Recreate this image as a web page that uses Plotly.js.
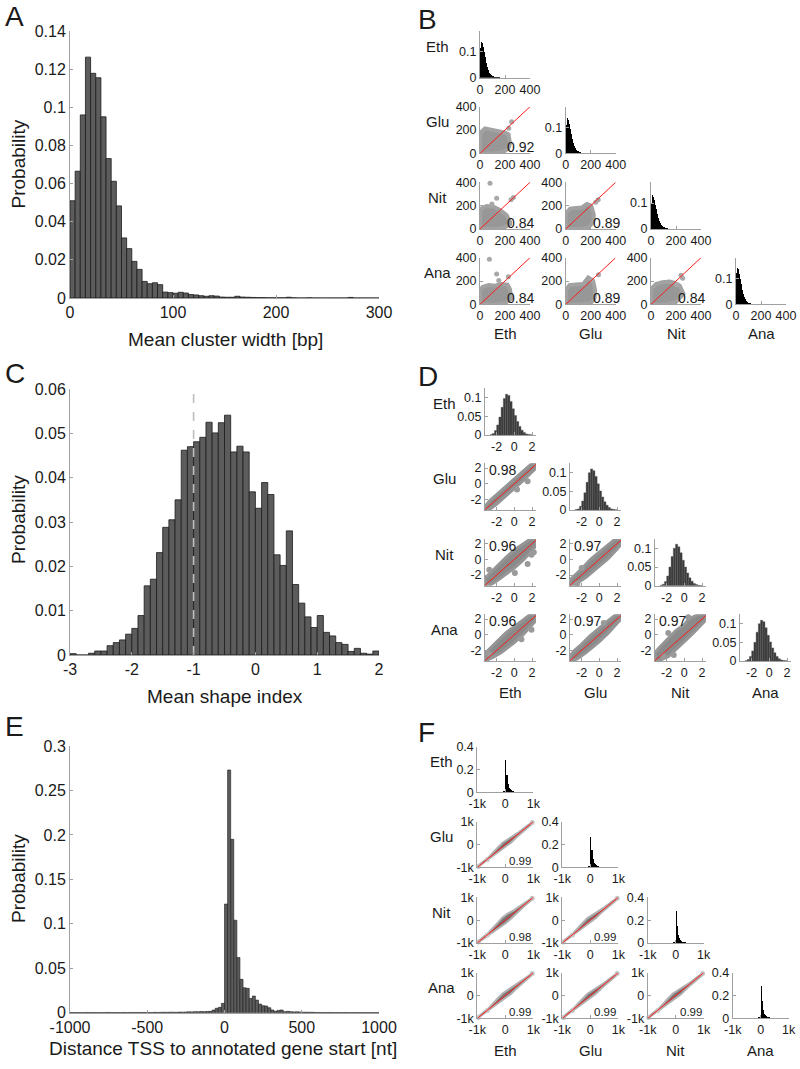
<!DOCTYPE html>
<html><head><meta charset="utf-8">
<script src="https://cdn.plot.ly/plotly-3.0.1.min.js"></script>
<style>html,body{margin:0;padding:0;background:#fff}</style>
</head><body><div id="chart" style="width:800px;height:1069px"></div>
<script>
// ---------------- DATA ----------------
// Panel A: mean cluster width histogram (bins of 5 bp from 0)
const aBinStart = 0, aBinWidth = 5;
const aProb = [0.051,0.0665,0.096,0.1263,0.1178,0.1155,0.095,0.0731,0.0612,0.0483,
0.0315,0.0259,0.0192,0.015,0.0087,0.0075,0.008,0.007,0.0031,0.0028,
0.0025,0.003,0.0026,0.0018,0.0016,0.0012,0.0009,0.0012,0.001,0.0005,
0.0004,0.0004,0.0009,0.0005,0.0004,0.0003,0.0002,0.0002,0.0001,0.0001,
0.0001,0.0001,0.0004,0.0001,0,0,0.0001,0,0,0,
0,0,0,0,0.0003,0,0,0,0,0];
const aXTicks = [0,100,200,300], aXText = ['0','100','200','300'];
const aYTicks = [0,0.02,0.04,0.06,0.08,0.1,0.12,0.14];
const aYText = ['0','0.02','0.04','0.06','0.08','0.1','0.12','0.14'];

// Panel C: mean shape index histogram (bins of 0.1 from -3)
const cBinStart = -3, cBinWidth = 0.1;
const cProb = [0.0003,0,0,0.0004,0.0009,0.0009,0.0021,0.0028,0.0034,0.0047,
0.006,0.0089,0.0156,0.0171,0.0231,0.0288,0.0305,0.035,0.0462,0.047,
0.0481,0.0491,0.0525,0.0501,0.0524,0.0541,0.0458,0.0471,0.0458,0.0368,
0.0331,0.0389,0.0362,0.0226,0.0202,0.028,0.0159,0.0117,0.0086,0.0062,
0.0089,0.0051,0.0043,0.0028,0.0024,0.0008,0.0015,0.0004,0.0002,0.0009];
const cDashX = [-1,-1], cDashY = [0,0.06];
const cXTicks = [-3,-2,-1,0,1,2], cXText = ['-3','-2','-1','0','1','2'];
const cYTicks = [0,0.01,0.02,0.03,0.04,0.05,0.06];
const cYText = ['0','0.01','0.02','0.03','0.04','0.05','0.06'];

// Panel E: distance TSS to annotated gene start (bins of 20 nt from -1000)
const eBinStart = -1000, eBinWidth = 20;
const eProb = [0.0002,0.0001,0.0002,0.0002,0.0001,0.0003,0.0001,0.0002,0.0002,0.0001,
0.0001,0.0002,0.0003,0.0002,0.0001,0.0002,0.0002,0.0003,0.0002,0.0003,
0.0002,0.0003,0.0002,0.0003,0.0002,0.0003,0.0002,0.0004,0.0003,0.0004,
0.0005,0.0004,0.0006,0.0005,0.0004,0.0007,0.0006,0.0008,0.001,0.0009,
0.0012,0.001,0.0013,0.0011,0.0014,0.0015,0.003,0.005,0.006,0.0105,
0.1222,0.273,0.195,0.104,0.062,0.0375,0.028,0.0274,0.016,0.0187,
0.0142,0.0097,0.0079,0.0075,0.0056,0.003,0.0015,0.0026,0.003,0.0011,
0.0015,0.0012,0.0009,0.001,0.0008,0.0006,0.0005,0.0005,0.0004,0.0003,
0.0003,0.0002,0.0002,0.0003,0.0002,0.0001,0.0002,0.0001,0.0001,0.0002,
0.0001,0.0001,0.0002,0.0001,0.0001,0.0001,0.0001,0.0001,0.0001,0.0001];
const eXTicks = [-1000,-500,0,500,1000], eXText = ['-1000','-500','0','500','1000'];
const eYTicks = [0,0.05,0.1,0.15,0.2,0.25,0.3];
const eYText = ['0','0.05','0.1','0.15','0.2','0.25','0.3'];

const conditions = ['Eth','Glu','Nit','Ana'];

// Panel B: per-condition cluster width histograms (bins of 8 from 0)
const bBinStart = 0, bBinWidth = 8;
const bHistEth = [0.115,0.137,0.133,0.12,0.1,0.08,0.058,0.042,0.03,0.02,0.014,0.01,0.007,0.005,0.004,0.003,0.002,0.0015,0.001,0.001];
const bHistGlu = [0.11,0.135,0.13,0.115,0.095,0.075,0.056,0.041,0.03,0.021,0.015,0.011,0.008,0.006,0.004,0.003,0.002,0.0015,0.001,0.001];
const bHistNit = [0.1,0.13,0.125,0.112,0.094,0.076,0.058,0.043,0.032,0.023,0.016,0.012,0.009,0.006,0.004,0.003,0.002,0.0015,0.001,0.001];
const bHistAna = [0.12,0.141,0.135,0.118,0.097,0.077,0.057,0.041,0.029,0.02,0.014,0.01,0.007,0.005,0.004,0.003,0.002,0.0015,0.001,0.001];
// Panel B: scatter cloud outlines and outlying points (x = column, y = row condition)
const bGluEthX = [0,100,180,225,240,228,200,160,120,80,40,13,0];
const bGluEthY = [0,0,10,40,86,163,177,186,191,206,214,186,140];
const bGluEthOX = [253,230], bGluEthOY = [271,215];
const bNitEthX = [0,120,190,240,240,213,160,107,53,13,0];
const bNitEthY = [0,0,10,40,63,120,163,191,197,177,130];
const bNitEthOX = [80,133,248,267,95], bNitEthOY = [391,263,250,269,215];
const bNitGluX = [0,110,180,220,225,205,170,130,80,35,0];
const bNitGluY = [0,0,10,60,120,200,215,185,180,175,130];
const bNitGluOX = [260,240], bNitGluOY = [250,230];
const bAnaEthX = [0,130,200,250,240,220,170,120,70,20,0];
const bAnaEthY = [0,0,10,50,130,170,175,160,165,150,120];
const bAnaEthOX = [75,133,227,150], bAnaEthOY = [386,260,237,205];
const bAnaGluX = [0,110,200,230,235,220,180,140,80,30,0];
const bAnaGluY = [0,0,10,50,120,200,230,175,170,165,120];
const bAnaGluOX = [262,210], bAnaGluOY = [255,210];
const bAnaNitX = [0,120,200,260,230,190,150,90,40,0];
const bAnaNitY = [0,0,20,90,160,185,195,190,175,130];
const bAnaNitOX = [253,205,240], bAnaNitOY = [223,166,250];
const bCorr = {GluEth:'0.92', NitEth:'0.84', NitGlu:'0.89', AnaEth:'0.84', AnaGlu:'0.89', AnaNit:'0.84'};
const bTicks = [0,200,400], bTickText = ['0','200','400'];
const bHistYTicks = [0,0.1], bHistYText = ['0','0.1'];

// Panel D: per-condition shape index histograms (bins of 0.25 from -2.75)
const dBinStart = -2.75, dBinWidth = 0.25;
const dHistEth = [0.001,0.004,0.012,0.027,0.048,0.074,0.098,0.109,0.106,0.09,0.07,0.052,0.036,0.023,0.013,0.007,0.003,0.0015,0.0005];
const dHistGlu = [0.001,0.003,0.01,0.024,0.046,0.074,0.1,0.11,0.105,0.09,0.07,0.051,0.035,0.022,0.013,0.007,0.003,0.0015,0.0005];
const dHistNit = [0.001,0.004,0.011,0.026,0.05,0.078,0.1,0.111,0.104,0.088,0.068,0.05,0.034,0.021,0.012,0.006,0.003,0.001,0.0005];
const dHistAna = [0.001,0.004,0.012,0.027,0.05,0.077,0.1,0.109,0.105,0.089,0.069,0.051,0.035,0.022,0.012,0.006,0.003,0.0015,0.0005];
const dGluEthX = [-3.32,-2.8,-2,-1,0,1,2,2.45,2.45,2,1,0,-1,-2,-2.8,-3.32];
const dGluEthY = [-3.37,-3.3,-2.6,-1.6,-0.65,0.4,1.5,2.0,2.6,2.6,1.6,0.6,-0.4,-1.4,-2.2,-2.9];
const dGluEthOX = [0.3,1.5], dGluEthOY = [-0.75,0.3];
const dNitEthX = [-3.32,-2.6,-1.8,-1,0,1,2,2.45,2.45,1.8,1,0,-1,-2,-2.8,-3.32];
const dNitEthY = [-3.37,-3.2,-2.6,-1.9,-1.1,-0.1,1.1,1.8,2.6,2.6,2.0,1.2,0.2,-0.9,-1.7,-2.4];
const dNitEthOX = [-2.83,1.94,0.06,2.2,1.5], dNitEthOY = [-1.33,0.58,-1.75,0.9,-0.6];
const dNitGluX = [-3.32,-2.6,-1.5,0,1,2,2.45,2.45,1.8,0.5,-1,-2,-2.8,-3.32];
const dNitGluY = [-3.37,-3.1,-2.3,-0.9,0.1,1.3,1.9,2.6,2.6,1.4,0.0,-1.2,-2.0,-2.6];
const dNitGluOX = [-2.5,-2.0], dNitGluOY = [-3.1,-1.1];
const dAnaEthX = [-3.32,-2.6,-1.5,0,1,2,2.45,2.45,1.8,1,0,-1,-2,-2.8,-3.32];
const dAnaEthY = [-3.37,-3.0,-2.3,-1.0,0.0,1.2,1.8,2.6,2.6,1.9,1.1,0.2,-0.9,-1.8,-2.4];
const dAnaEthOX = [1.94,-2.83,0.8], dAnaEthOY = [0.62,-2.5,-0.6];
const dAnaGluX = [-3.32,-2.5,-1.5,0,1,2,2.45,2.45,1.9,1,0,-1,-2,-2.8,-3.32];
const dAnaGluY = [-3.37,-3.1,-2.3,-0.9,0.2,1.4,2.0,2.6,2.6,1.8,0.9,-0.1,-1.2,-2.0,-2.7];
const dAnaGluOX = [0.5], dAnaGluOY = [1.5];
const dAnaNitX = [-3.32,-2.6,-1.8,-1,0,1,2,2.45,2.45,1.6,0.5,0,-1,-2,-2.8,-3.32];
const dAnaNitY = [-3.37,-3.2,-2.8,-1.9,-0.9,0.2,1.3,1.9,2.6,2.6,2.0,1.3,0.5,-0.6,-1.6,-2.3];
const dAnaNitOX = [0.44,-1.82,-2.38,-1.2], dAnaNitOY = [2.23,0.2,-2.77,-2.6];
const dCorr = {GluEth:'0.98', NitEth:'0.96', NitGlu:'0.97', AnaEth:'0.96', AnaGlu:'0.97', AnaNit:'0.97'};
const dTicks = [-2,0,2], dTickText = ['-2','0','2'];
const dHistYTicks = [0,0.05,0.1], dHistYText = ['0','0.05','0.1'];

// Panel F: per-condition TSS distance histograms (bins of 40 nt from -200)
const fBinStart = -200, fBinWidth = 40;
const fHistEth = [0.002,0.003,0.004,0.008,0.014,0.28,0.15,0.07,0.04,0.028,0.02,0.013,0.009,0.006,0.004,0.003,0.002,0.0015,0.001,0.001];
const fHistGlu = [0.002,0.003,0.004,0.008,0.014,0.27,0.15,0.072,0.041,0.028,0.02,0.013,0.009,0.006,0.004,0.003,0.002,0.0015,0.001,0.001];
const fHistNit = [0.002,0.003,0.004,0.008,0.015,0.28,0.145,0.07,0.04,0.027,0.019,0.013,0.009,0.006,0.004,0.003,0.002,0.0015,0.001,0.001];
const fHistAna = [0.002,0.003,0.004,0.008,0.014,0.285,0.148,0.07,0.04,0.027,0.02,0.013,0.009,0.006,0.004,0.003,0.002,0.0015,0.001,0.001];
const fGluEthX = [-1000,-700,-400,-200,0,200,400,700,1000,1000,800,500,300,100,-100,-300,-600,-1000];
const fGluEthY = [-1000,-730,-460,-300,-120,80,320,650,950,1000,840,560,400,260,80,-170,-560,-950];
const fNitEthX = [-1000,-700,-400,-200,0,200,400,700,1000,1000,800,500,300,100,-100,-300,-600,-1000];
const fNitEthY = [-1000,-740,-480,-330,-150,60,300,640,950,1000,850,580,430,300,120,-150,-550,-950];
const fNitGluX = [-1000,-700,-400,-200,0,200,400,700,1000,1000,800,500,300,100,-100,-300,-600,-1000];
const fNitGluY = [-1000,-730,-460,-300,-120,90,330,660,950,1000,840,560,400,260,90,-160,-560,-950];
const fAnaEthX = [-1000,-700,-400,-200,0,200,400,700,1000,1000,800,500,300,100,-100,-300,-600,-1000];
const fAnaEthY = [-1000,-730,-470,-310,-130,70,310,650,950,1000,840,570,410,270,90,-160,-560,-950];
const fAnaGluX = [-1000,-700,-400,-200,0,200,400,700,1000,1000,800,500,300,100,-100,-300,-600,-1000];
const fAnaGluY = [-1000,-730,-460,-300,-120,80,320,650,950,1000,840,560,400,260,80,-170,-560,-950];
const fAnaNitX = [-1000,-700,-400,-200,0,200,400,700,1000,1000,800,500,300,100,-100,-300,-600,-1000];
const fAnaNitY = [-1000,-730,-460,-300,-130,70,320,650,950,1000,840,560,400,270,90,-160,-560,-950];
const fEndsX = [-960,-640,960], fEndsY = [-960,-650,960];
const fCorr = {GluEth:'0.99', NitEth:'0.98', NitGlu:'0.99', AnaEth:'0.99', AnaGlu:'0.99', AnaNit:'0.99'};
const fTicks = [-1000,0,1000], fTickText = ['-1k','0','1k'];
const fHistYTicks = [0,0.2,0.4], fHistYText = ['0','0.2','0.4'];

// ---------------- BUILD ----------------
const W = 800, H = 1069;
const FONT = 'Liberation Sans, Arial, Helvetica, sans-serif';
const TXT = '#1a1a1a', AXC = '#a0a0a0';
const traces = [];
const layout = {width:W, height:H, margin:{l:0,r:0,t:0,b:0}, showlegend:false,
  paper_bgcolor:'#fff', plot_bgcolor:'#fff', bargap:0, barmode:'overlay',
  annotations:[], font:{family:FONT, color:TXT}};

let nAx = 0;
function makeAxes(box, xo, yo) {
  nAx++;
  const s = nAx === 1 ? '' : String(nAx);
  const base = {showline:true, linecolor:AXC, linewidth:1, ticks:'inside', ticklen:3, tickcolor:AXC,
    tickwidth:1, showgrid:false, zeroline:false, fixedrange:true, tickmode:'array'};
  layout['xaxis'+s] = Object.assign({}, base, {domain:[box[0]/W,(box[0]+box[2])/W], anchor:'y'+s}, xo);
  layout['yaxis'+s] = Object.assign({}, base, {domain:[1-(box[1]+box[3])/H, 1-box[1]/H], anchor:'x'+s}, yo);
  return {xaxis:'x'+s, yaxis:'y'+s};
}
function bars(ax, start, width, vals, fill, lc, lw) {
  traces.push(Object.assign({type:'bar', x: vals.map((_,i)=>start+width*(i+0.5)), y: vals, width: width,
    marker:{color:fill, line:{color:lc, width:lw}}, hoverinfo:'skip'}, ax));
}
function line(ax, xs, ys, color, width, dash) {
  traces.push(Object.assign({type:'scatter', mode:'lines', x:xs, y:ys, line:{color:color, width:width, dash:dash||'solid'}, hoverinfo:'skip'}, ax));
}
function cloud(ax, xs, ys, fillc, lc, lw) {
  traces.push(Object.assign({type:'scatter', mode:'lines', x:xs.concat([xs[0]]), y:ys.concat([ys[0]]), fill:'toself',
    fillcolor:fillc, line:{color:lc, width:lw}, hoverinfo:'skip'}, ax));
}
function pts(ax, xs, ys, color, size) {
  traces.push(Object.assign({type:'scatter', mode:'markers', x:xs, y:ys, marker:{color:color, size:size}, cliponaxis:false, hoverinfo:'skip'}, ax));
}
function ann(text, x, y, size, xa, ya, angle) {
  layout.annotations.push({text:text, x:x/W, y:1-y/H, xref:'paper', yref:'paper', showarrow:false,
    xanchor:xa||'center', yanchor:ya||'middle', textangle:angle||0, font:{family:FONT, size:size, color:TXT}});
}

// Big histograms
const bigTick = {family:FONT, size:16, color:TXT};
function bigHist(box, start, width, vals, xr, yr, xt, xtt, yt, ytt, lw) {
  const ax = makeAxes(box,
    {range:xr, tickvals:xt, ticktext:xtt, tickfont:bigTick},
    {range:yr, tickvals:yt, ticktext:ytt, tickfont:bigTick});
  bars(ax, start, width, vals, '#5c5c5c', '#1c1c1c', lw);
  return ax;
}
bigHist([70,31,309,267], aBinStart, aBinWidth, aProb, [0,300], [0,0.14], aXTicks, aXText, aYTicks, aYText, 0.8);
const axC = bigHist([70,389,309,266], cBinStart, cBinWidth, cProb, [-3,2], [0,0.06], cXTicks, cXText, cYTicks, cYText, 0.8);
line(axC, cDashX, cDashY, '#bdbdbd', 1.6, 'dash');
bigHist([70,746,309,266.7], eBinStart, eBinWidth, eProb, [-1000,1000], [0,0.3], eXTicks, eXText, eYTicks, eYText, 0.6);

ann('Mean cluster width [bp]', 225, 339, 19);
ann('Mean shape index', 225, 696, 19);
ann('Distance TSS to annotated gene start [nt]', 223, 1048, 19);
ann('Probability', 18, 164.5, 19, 'center', 'middle', -90);
ann('Probability', 18, 520, 19, 'center', 'middle', -90);
ann('Probability', 18, 879, 19, 'center', 'middle', -90);
ann('A', 3, 16, 28, 'left'); ann('B', 416, 19, 28, 'left');
ann('C', 3, 373, 28, 'left'); ann('D', 416, 377, 28, 'left');
ann('E', 3, 726, 28, 'left'); ann('F', 416, 732, 28, 'left');

// Matrix panels
function matrix(cfg) {
  const tf = {family:FONT, size:cfg.tickSize, color:TXT};
  for (let r = 0; r < 4; r++) {
    ann(conditions[r], cfg.rowLabelX, cfg.rows[r] + 15, 15);
    for (let c = 0; c <= r; c++) {
      const box = [cfg.cols[c], cfg.rows[r], cfg.w, cfg.h];
      if (r === c) {
        const ax = makeAxes(box,
          {range:cfg.xr, tickvals:cfg.ticks, ticktext:cfg.tickText, tickfont:tf},
          {range:cfg.hyr, tickvals:cfg.hTicks, ticktext:cfg.hTickText, tickfont:tf});
        bars(ax, cfg.hStart, cfg.hWidth, cfg.hists[conditions[r]], cfg.histColor, cfg.histLine, cfg.histLW);
      } else {
        const key = conditions[r] + conditions[c];
        const ax = makeAxes(box,
          {range:cfg.xr, tickvals:cfg.ticks, ticktext:cfg.tickText, tickfont:tf},
          {range:cfg.yr, tickvals:cfg.ticks, ticktext:cfg.tickText, tickfont:tf});
        const cl = cfg.clouds[key];
        cloud(ax, cl[0], cl[1], cfg.cloudFill, cfg.cloudLine, cfg.cloudLW);
        if (cl[2]) pts(ax, cl[2], cl[3], cfg.ptColor, cfg.ptSize);
        line(ax, cfg.diag, cfg.diag, '#ff1a1a', 1);
        const corr = cfg.corr[key];
        if (cfg.corrPos === 'br') ann(corr, box[0]+box[2]+cfg.corrDx, box[1]+box[3]-6, cfg.corrSize, 'right');
        else ann(corr, box[0]+2, box[1]+7, cfg.corrSize, 'left');
      }
    }
    ann(conditions[r], cfg.cols[r] + cfg.w/2, cfg.colLabelY, 15);
  }
}

matrix({cols:[480,565.7,651,736], rows:[31,106.7,182.3,257.7], w:50, h:46.7,
  xr:[0,400], yr:[0,400], hyr:[0,0.18], ticks:bTicks, tickText:bTickText,
  hTicks:bHistYTicks, hTickText:bHistYText, tickSize:12.5,
  hStart:bBinStart, hWidth:bBinWidth, hists:{Eth:bHistEth, Glu:bHistGlu, Nit:bHistNit, Ana:bHistAna},
  histColor:'#000', histLine:'#000', histLW:0,
  clouds:{GluEth:[bGluEthX,bGluEthY,bGluEthOX,bGluEthOY], NitEth:[bNitEthX,bNitEthY,bNitEthOX,bNitEthOY],
    NitGlu:[bNitGluX,bNitGluY,bNitGluOX,bNitGluOY], AnaEth:[bAnaEthX,bAnaEthY,bAnaEthOX,bAnaEthOY],
    AnaGlu:[bAnaGluX,bAnaGluY,bAnaGluOX,bAnaGluOY], AnaNit:[bAnaNitX,bAnaNitY,bAnaNitOX,bAnaNitOY]},
  cloudFill:'#979797', cloudLine:'#a2a2a2', cloudLW:4, ptColor:'#a8a8a8', ptSize:5,
  diag:[0,400], corr:bCorr, corrPos:'br', corrDx:6, corrSize:14,
  rowLabelX:437, colLabelY:334});

matrix({cols:[485,570,655,740], rows:[388.3,463.3,539,614.3], w:51, h:46.7,
  xr:[-3.32,2.45], yr:[-3.37,2.61], hyr:[0,0.125], ticks:dTicks, tickText:dTickText,
  hTicks:dHistYTicks, hTickText:dHistYText, tickSize:12.5,
  hStart:dBinStart, hWidth:dBinWidth, hists:{Eth:dHistEth, Glu:dHistGlu, Nit:dHistNit, Ana:dHistAna},
  histColor:'#3a3a3a', histLine:'#555', histLW:0.4,
  clouds:{GluEth:[dGluEthX,dGluEthY,dGluEthOX,dGluEthOY], NitEth:[dNitEthX,dNitEthY,dNitEthOX,dNitEthOY],
    NitGlu:[dNitGluX,dNitGluY,dNitGluOX,dNitGluOY], AnaEth:[dAnaEthX,dAnaEthY,dAnaEthOX,dAnaEthOY],
    AnaGlu:[dAnaGluX,dAnaGluY,dAnaGluOX,dAnaGluOY], AnaNit:[dAnaNitX,dAnaNitY,dAnaNitOX,dAnaNitOY]},
  cloudFill:'#8a8a8a', cloudLine:'#959595', cloudLW:3, ptColor:'#9a9a9a', ptSize:6,
  diag:[-3.4,2.7], corr:dCorr, corrPos:'tl', corrSize:14,
  rowLabelX:444, colLabelY:692});

matrix({cols:[477.3,562.3,647.7,732.7], rows:[746.7,821.7,897.3,972.7], w:56, h:45.7,
  xr:[-1000,1000], yr:[-1000,1000], hyr:[0,0.4], ticks:fTicks, tickText:fTickText,
  hTicks:fHistYTicks, hTickText:fHistYText, tickSize:12.5,
  hStart:fBinStart, hWidth:fBinWidth, hists:{Eth:fHistEth, Glu:fHistGlu, Nit:fHistNit, Ana:fHistAna},
  histColor:'#000', histLine:'#000', histLW:0,
  clouds:{GluEth:[fGluEthX,fGluEthY,fEndsX,fEndsY], NitEth:[fNitEthX,fNitEthY,fEndsX,fEndsY],
    NitGlu:[fNitGluX,fNitGluY,fEndsX,fEndsY], AnaEth:[fAnaEthX,fAnaEthY,fEndsX,fEndsY],
    AnaGlu:[fAnaGluX,fAnaGluY,fEndsX,fEndsY], AnaNit:[fAnaNitX,fAnaNitY,fEndsX,fEndsY]},
  cloudFill:'#767676', cloudLine:'#b0b0b0', cloudLW:2, ptColor:'#c4c4c4', ptSize:5,
  diag:[-1000,1000], corr:fCorr, corrPos:'br', corrDx:0, corrSize:11.5,
  rowLabelX:441.7, colLabelY:1050});

Plotly.newPlot('chart', traces, layout, {staticPlot:true, displayModeBar:false});
</script></body></html>
